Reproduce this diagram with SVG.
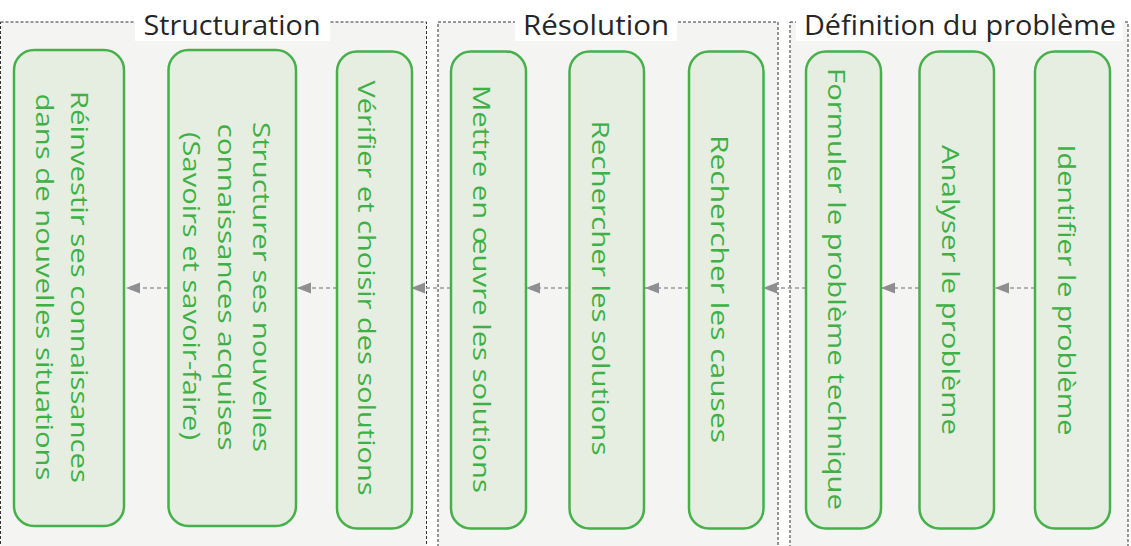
<svg xmlns="http://www.w3.org/2000/svg" width="1131" height="546" viewBox="0 0 1131 546">
<style>
.cluster{fill:#f4f4f2;stroke:#333;stroke-width:1;stroke-dasharray:3 2;}
.ctitle{font-family:"Open Sans","Liberation Sans",sans-serif;font-size:27px;fill:#262626;}
.tbg{fill:#ffffff;}
.node rect{fill:#e5eee1;stroke:#46b04b;stroke-width:2.5;}
.node text{font-family:"Open Sans","Liberation Sans",sans-serif;font-size:24px;fill:#3fb045;text-anchor:middle;}
.edge{stroke:#9a9a9e;stroke-width:1.5;stroke-dasharray:4 3;fill:none;}
</style>
<defs>
<marker id="ah" markerUnits="userSpaceOnUse" markerWidth="15" markerHeight="12" refX="14" refY="5.5" orient="auto">
<path d="M0,0 L14,5.5 L0,11 z" fill="#8e8e93"/>
</marker>
</defs>
<rect width="1131" height="546" fill="#ffffff"/>

<g id="cluster-structuration">
<rect class="cluster" x="0.5" y="22" width="426" height="540"/>
<rect class="tbg" x="135" y="0" width="195" height="41"/>
<text class="ctitle" x="232" y="35" text-anchor="middle" textLength="177" lengthAdjust="spacingAndGlyphs">Structuration</text>
</g>
<g id="cluster-resolution">
<rect class="cluster" x="438" y="22" width="340" height="540"/>
<rect class="tbg" x="515" y="0" width="162" height="41"/>
<text class="ctitle" x="596" y="35" text-anchor="middle" textLength="146" lengthAdjust="spacingAndGlyphs">Résolution</text>
</g>
<g id="cluster-definition">
<rect class="cluster" x="790" y="22" width="338" height="540"/>
<rect class="tbg" x="796" y="0" width="327" height="41"/>
<text class="ctitle" x="960" y="35" text-anchor="middle" textLength="312" lengthAdjust="spacingAndGlyphs">Définition du problème</text>
</g>

<g id="connectors">
<line class="edge" x1="1035" y1="288" x2="995" y2="288" marker-end="url(#ah)"/>
<line class="edge" x1="919" y1="288" x2="881" y2="288" marker-end="url(#ah)"/>
<line class="edge" x1="806" y1="288" x2="763" y2="288" marker-end="url(#ah)"/>
<line class="edge" x1="689" y1="288" x2="645" y2="288" marker-end="url(#ah)"/>
<line class="edge" x1="569" y1="288" x2="526" y2="288" marker-end="url(#ah)"/>
<line class="edge" x1="451" y1="288" x2="411" y2="288" marker-end="url(#ah)"/>
<line class="edge" x1="337" y1="288" x2="297" y2="288" marker-end="url(#ah)"/>
<line class="edge" x1="168" y1="288" x2="126" y2="288" marker-end="url(#ah)"/>
</g>

<g id="node-reinvestir" class="node">
<rect x="14" y="50" width="110" height="476" rx="20"/>
<text transform="translate(71,287) rotate(90)" x="0" y="0" textLength="392" lengthAdjust="spacingAndGlyphs">Réinvestir ses connaissances</text>
<text transform="translate(36,287) rotate(90)" x="0" y="0" textLength="387" lengthAdjust="spacingAndGlyphs">dans de nouvelles situations</text>
</g>
<g id="node-structurer" class="node">
<rect x="168.5" y="50" width="127.5" height="476" rx="20"/>
<text transform="translate(253,287) rotate(90)" x="0" y="0" textLength="330" lengthAdjust="spacingAndGlyphs">Structurer ses nouvelles</text>
<text transform="translate(218,287) rotate(90)" x="0" y="0" textLength="327" lengthAdjust="spacingAndGlyphs">connaissances acquises</text>
<text transform="translate(183,286) rotate(90)" x="0" y="0" textLength="308" lengthAdjust="spacingAndGlyphs">(Savoirs et savoir-faire)</text>
</g>
<g id="node-verifier" class="node">
<rect x="337" y="51.5" width="75" height="477" rx="20"/>
<text transform="translate(358,288) rotate(90)" x="0" y="0" textLength="415" lengthAdjust="spacingAndGlyphs">Vérifier et choisir des solutions</text>
</g>
<g id="node-mettre" class="node">
<rect x="451" y="51.5" width="75" height="477" rx="20"/>
<text transform="translate(473,289) rotate(90)" x="0" y="0" textLength="408" lengthAdjust="spacingAndGlyphs">Mettre en œuvre les solutions</text>
</g>
<g id="node-rech-solutions" class="node">
<rect x="569.5" y="51.5" width="74.5" height="477" rx="20"/>
<text transform="translate(592,288) rotate(90)" x="0" y="0" textLength="335" lengthAdjust="spacingAndGlyphs">Rechercher les solutions</text>
</g>
<g id="node-rech-causes" class="node">
<rect x="689" y="51.5" width="74.5" height="477" rx="20"/>
<text transform="translate(711,289) rotate(90)" x="0" y="0" textLength="308" lengthAdjust="spacingAndGlyphs">Rechercher les causes</text>
</g>
<g id="node-formuler" class="node">
<rect x="806" y="51.5" width="75" height="477" rx="20"/>
<text transform="translate(828,289) rotate(90)" x="0" y="0" textLength="442" lengthAdjust="spacingAndGlyphs">Formuler le problème technique</text>
</g>
<g id="node-analyser" class="node">
<rect x="919.5" y="51.5" width="74.5" height="477" rx="20"/>
<text transform="translate(942,290) rotate(90)" x="0" y="0" textLength="290" lengthAdjust="spacingAndGlyphs">Analyser le problème</text>
</g>
<g id="node-identifier" class="node">
<rect x="1035" y="51.5" width="75" height="477" rx="20"/>
<text transform="translate(1058,290) rotate(90)" x="0" y="0" textLength="291" lengthAdjust="spacingAndGlyphs">Identifier le problème</text>
</g>
</svg>
